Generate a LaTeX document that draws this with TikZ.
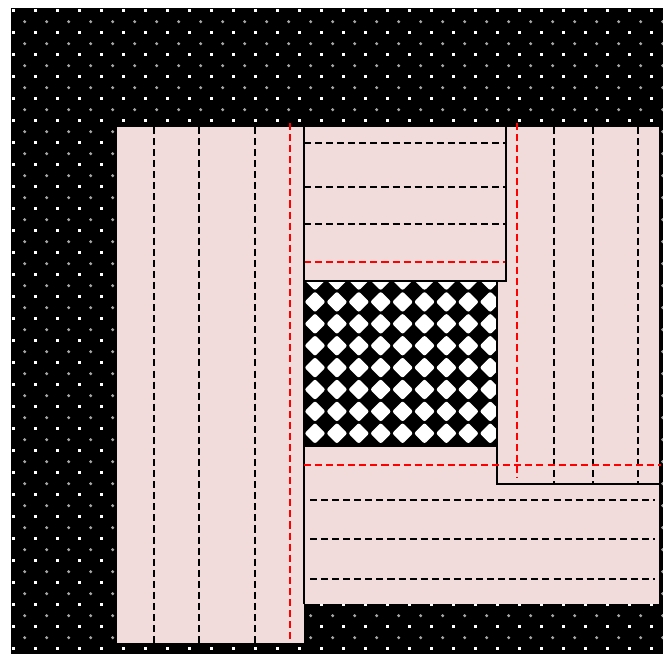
\documentclass[tikz,border=0pt]{standalone}
\usepackage{xcolor}
\usepackage{tikz}
\definecolor{slabpink}{RGB}{241,219,219}

\begin{document}
\begin{tikzpicture}[x=0.02cm,y=-0.02cm,
  slab/.style={fill=slabpink},
  edge/.style={line width=1.2pt,black},
  joint/.style={line width=1.3pt,black,dash pattern=on 4pt off 2.3pt},
  axis/.style={line width=1.3pt,red,dash pattern=on 4pt off 2.3pt}]
\useasboundingbox (0,0) rectangle (663,654);
% ground with dots
\fill[black] (11,8) rectangle (663,654);
\foreach \i in {0,...,29}{\foreach \j in {0,...,29}{
  \fill[white] ({11.9+22*\i},{9.3+22*\j}) rectangle ++(2.8,2.8);
  \fill[white!65!black] ({24.7+22*\i},{21.7+22*\j}) circle (1.7);}}
% left slab
\fill[slab] (117,127) rectangle (304,643);
\foreach \x in {154,199,255}{\draw[joint] (\x,127)--(\x,643);}
\draw[axis] (290,123)--(290,643);
% bottom slab
\fill[slab] (304,446) rectangle (659,604);
\foreach \y in {500,539,579}{\draw[joint] (310,\y)--(655,\y);}
% opening
\begin{scope}
\clip (304,281) rectangle (497,446);
\fill[black] (304,281) rectangle (497,446);
\foreach \i in {0,...,8}{\foreach \j in {0,...,7}{
  \fill[white,rounded corners=1.2] ({315+21.9*\i},{269.5+21.9*\j}) -- ++(10.5,10.5) -- ++(-10.5,10.5) -- ++(-10.5,-10.5) -- cycle;}}
\end{scope}
\draw[edge] (304,446)--(497,446);
% right slab
\fill[slab] (497,127) rectangle (659,484);
\foreach \x in {554,593,638}{\draw[joint] (\x,127)--(\x,484);}
\draw[edge] (497,281)--(497,484)--(659,484);
\draw[axis] (517,123)--(517,478);
% top slab
\fill[slab] (304,127) rectangle (506,281);
\foreach \y in {143,187,224}{\draw[joint] (304,\y)--(506,\y);}
\draw[axis] (304,262)--(506,262);
\draw[edge] (304,604)--(304,127);
\draw[edge] (304,281)--(506,281)--(506,127);
\draw[axis] (304,465)--(661,465);
\end{tikzpicture}
\end{document}
